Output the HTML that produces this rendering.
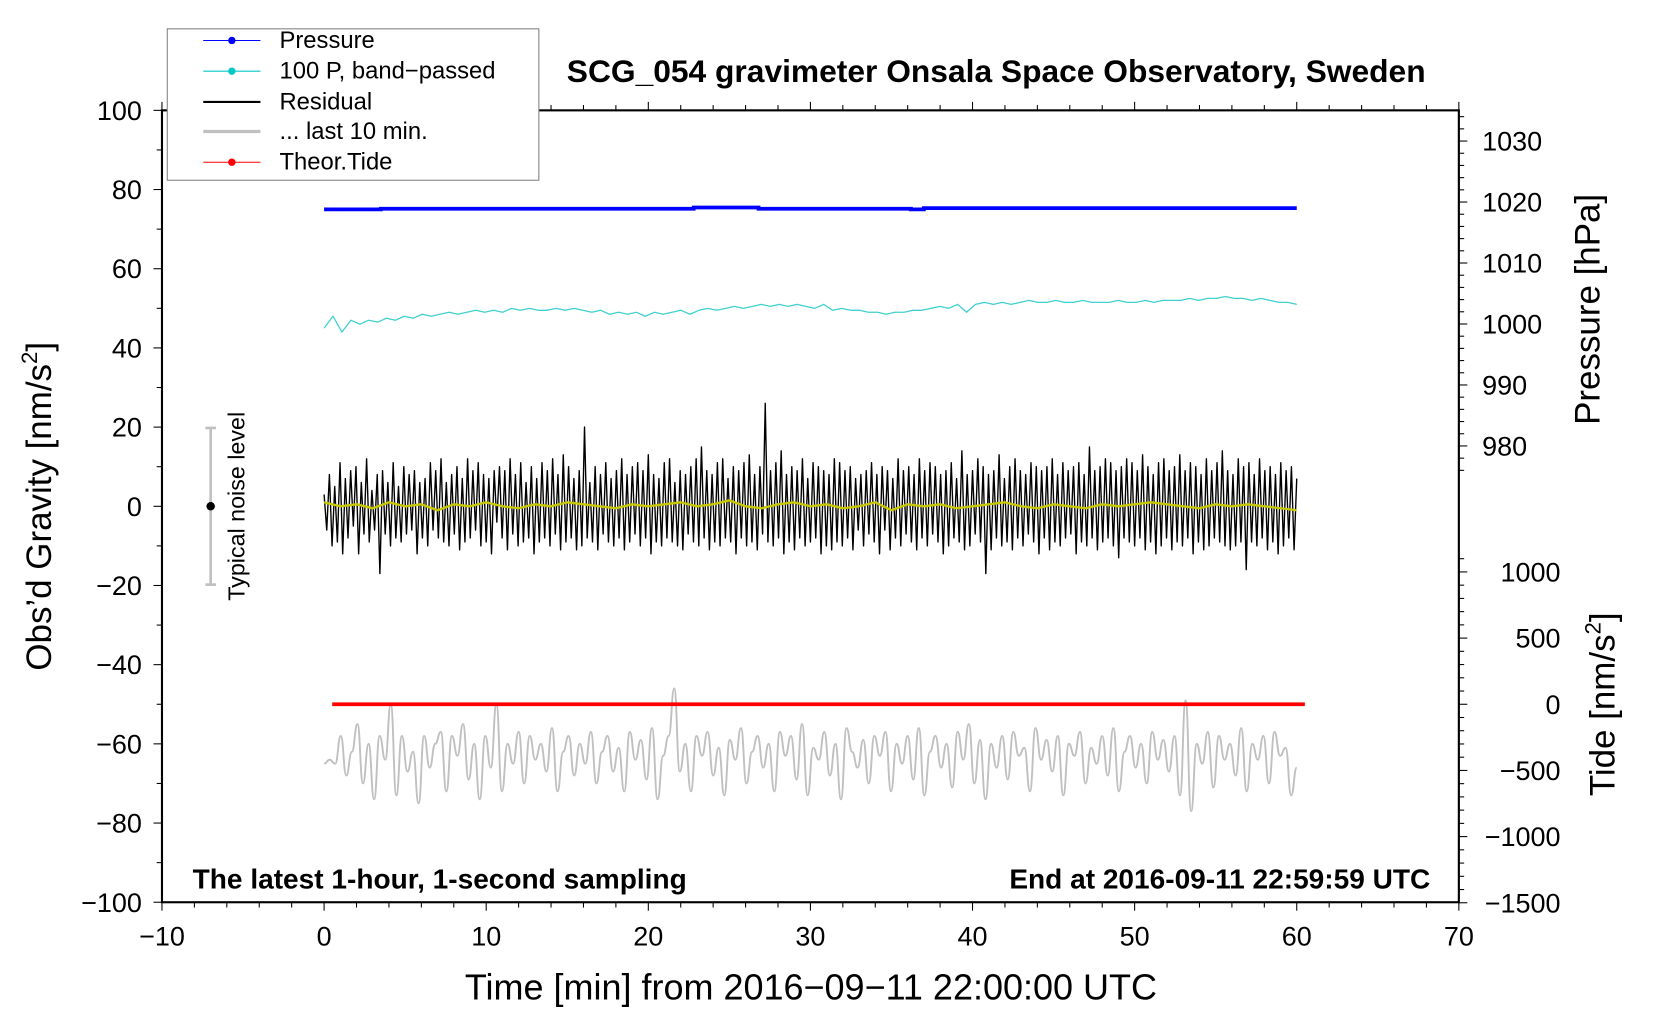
<!DOCTYPE html>
<html><head><meta charset="utf-8"><style>
html,body{margin:0;padding:0;background:#fff;}
svg{display:block;font-family:"Liberation Sans",sans-serif;}
</style></head><body>
<svg id="chart" width="1660" height="1020" viewBox="0 0 1568 963">
<rect x="0" y="0" width="1568" height="963" fill="#fff"/>
<g id="plot"></g>
<g id="axes"></g>
<text x="941" y="77" font-size="30" font-weight="bold" text-anchor="middle">SCG_054 gravimeter Onsala Space Observatory, Sweden</text>
<text x="182" y="839" font-size="26.5" font-weight="bold">The latest 1-hour, 1-second sampling</text>
<text x="1351" y="839" font-size="26.5" font-weight="bold" text-anchor="end">End at 2016-09-11 22:59:59 UTC</text>
<text x="766" y="944" font-size="34" text-anchor="middle">Time [min] from 2016−09−11 22:00:00 UTC</text>
<text transform="translate(48,478) rotate(-90)" font-size="33" text-anchor="middle">Obs’d Gravity [nm/s<tspan font-size="21" dy="-13">2</tspan><tspan dy="13">]</tspan></text>
<text transform="translate(1511,292) rotate(-90)" font-size="33" text-anchor="middle">Pressure [hPa]</text>
<text transform="translate(1525,665) rotate(-90)" font-size="33" text-anchor="middle">Tide [nm/s<tspan font-size="21" dy="-13">2</tspan><tspan dy="13">]</tspan></text>
<g>
<line x1="199" y1="404" x2="199" y2="552" stroke="#c0c0c0" stroke-width="2.5"/>
<line x1="194" y1="404" x2="204" y2="404" stroke="#c0c0c0" stroke-width="2.5"/>
<line x1="194" y1="552" x2="204" y2="552" stroke="#c0c0c0" stroke-width="2.5"/>
<circle cx="199" cy="478" r="4" fill="#000"/>
<text transform="translate(231,478) rotate(-90)" font-size="22" text-anchor="middle">Typical noise level</text>
</g>
<g>
<rect x="158" y="27" width="351" height="143" fill="#fff" stroke="#808080" stroke-width="1"/>
<g><line x1="192" y1="38" x2="246" y2="38" stroke="#0000ff" stroke-width="1"/><circle cx="219" cy="38" r="3.5" fill="#0000ff"/><text x="264" y="45" font-size="22.5">Pressure</text></g>
<g><line x1="192" y1="67" x2="246" y2="67" stroke="#00c8c8" stroke-width="1"/><circle cx="219" cy="67" r="3.5" fill="#00c8c8"/><text x="264" y="74" font-size="22.5">100 P, band−passed</text></g>
<g><line x1="192" y1="96" x2="246" y2="96" stroke="#000" stroke-width="2"/><text x="264" y="103" font-size="22.5">Residual</text></g>
<g><line x1="192" y1="124" x2="246" y2="124" stroke="#c0c0c0" stroke-width="3"/><text x="264" y="131" font-size="22.5">... last 10 min.</text></g>
<g><line x1="192" y1="153" x2="246" y2="153" stroke="#ff0000" stroke-width="1"/><circle cx="219" cy="153" r="3.5" fill="#ff0000"/><text x="264" y="160" font-size="22.5">Theor.Tide</text></g>
</g>
</svg>
<script>
// ---- data ----
const pressureTimes = [0, 3.5, 22.8, 26.8, 36.2, 37, 60];
const pressureValues = [1018.8, 1018.9, 1019.1, 1018.9, 1018.8, 1019.0, 1019.0];
const bandPassed = [45,48,44,47,46,47,46.5,47.5,47,48,47.5,48.5,48,48.5,49,48.5,49,49.5,49,49.5,49,50,49.5,50,49.5,49.5,50,49.5,50,49.5,49,49.5,48.5,49,48.5,49,48,49,48.5,49,49.5,48.5,49.5,50,49.5,50,50.5,50,50.5,51,50.5,51,50.5,51,50.5,50,51,49.5,50,49.5,49.5,49,49,48.5,49,49,49.5,49.5,50,50.5,50,51,49,51,51.5,51,51.5,51,51.5,52,51.5,51.5,52,51.5,51.5,52,51.5,51.5,51.5,52,51.5,51.5,52,51.5,52,52,52,52.5,52,52.5,52.5,53,52.5,52.5,52,52.5,52,51.5,51.5,51];
const residual = [3,-6,8,-10,5,-9,11,-12,7,-8,9,-5,10,-12,6,-7,12,-9,4,-6,8,-17,9,-7,6,-10,11,-8,5,-9,10,-7,8,-6,9,-12,6,-8,7,-10,11,-6,9,-8,12,-9,6,-10,8,-7,10,-11,7,-9,12,-8,9,-6,11,-10,8,-9,7,-12,9,-4,10,-8,9,-11,12,-7,8,-10,11,-9,6,-8,10,-12,7,-9,11,-8,9,-10,12,-7,8,-11,13,-9,10,-8,7,-11,9,-10,20,-8,6,-9,10,-11,8,-7,11,-9,7,-10,9,-8,12,-11,8,-9,10,-7,11,-10,9,-8,13,-12,8,-9,7,-10,11,-8,12,-9,6,-10,9,-11,8,-7,10,-9,12,-10,15,-8,9,-11,8,-9,11,-10,12,-8,7,-9,10,-12,9,-8,11,-10,13,-9,8,-11,10,-7,26,-9,9,-10,11,-8,14,-12,8,-9,10,-11,9,-8,12,-10,7,-9,11,-8,10,-12,9,-10,8,-11,12,-9,11,-10,9,-8,10,-11,7,-6,8,-10,9,-7,11,-9,8,-12,10,-6,9,-11,7,-8,12,-10,9,-7,10,-9,8,-11,12,-8,9,-10,11,-7,10,-9,8,-12,9,-10,11,-8,7,-9,14,-11,8,-10,9,-7,12,-9,10,-17,8,-11,9,-8,13,-10,7,-9,10,-11,12,-8,9,-10,8,-7,11,-9,10,-12,9,-8,10,-11,12,-9,8,-10,11,-8,9,-7,10,-12,11,-9,8,-10,15,-8,9,-11,10,-9,12,-8,11,-10,9,-13,10,-8,12,-9,11,-10,9,-8,13,-11,10,-9,8,-12,11,-10,12,-8,9,-11,10,-9,13,-10,9,-8,11,-12,10,-9,8,-11,12,-10,9,-8,11,-9,14,-10,9,-11,8,-10,12,-9,10,-16,11,-9,8,-10,12,-8,9,-11,10,-9,8,-12,11,-10,9,-8,10,-11,7];
const smoothed = [1,0,0.5,-0.5,1,0,0.5,-1,0.5,0,1,0,-0.5,0.5,0,1,0.5,0,-0.5,0.5,0,0.5,1,0,0.5,1.5,0,-0.5,0.5,1,0,0.5,-0.5,0,1,-1,0.5,0,0.5,-0.5,0,0.5,1,0,-0.5,0.5,0,-0.5,0.5,0,0.5,1,0.5,0,-0.5,0.5,0,0.5,0,-0.5,-1];
const last10 = [-65,-64,-65,-58,-68,-62,-55,-70,-60,-74,-58,-64,-50,-73,-58,-67,-62,-75,-58,-66,-60,-57,-72,-58,-63,-55,-69,-60,-74,-58,-66,-50,-72,-60,-65,-57,-70,-58,-64,-60,-67,-56,-72,-62,-58,-68,-60,-65,-57,-70,-62,-58,-67,-61,-72,-57,-64,-59,-69,-56,-74,-63,-58,-46,-67,-60,-72,-58,-63,-57,-68,-61,-73,-59,-64,-56,-70,-62,-58,-66,-60,-72,-57,-63,-58,-69,-55,-73,-61,-64,-57,-68,-60,-74,-56,-62,-66,-59,-70,-58,-63,-57,-72,-60,-65,-58,-69,-56,-73,-62,-58,-66,-60,-71,-57,-64,-55,-70,-59,-74,-60,-66,-58,-69,-57,-63,-61,-72,-56,-64,-59,-67,-58,-73,-60,-63,-57,-70,-61,-65,-58,-68,-56,-72,-62,-58,-66,-60,-70,-57,-64,-59,-67,-58,-73,-49,-77,-60,-65,-57,-71,-58,-64,-60,-68,-56,-72,-60,-64,-58,-70,-57,-63,-61,-73,-66];
const tideTimes = [0.5, 60.5];
const tideValues = [0, 0];
const xTicks = [-10,0,10,20,30,40,50,60,70];
const yTicks = [100,80,60,40,20,0,-20,-40,-60,-80,-100];
const pTicks = [1030,1020,1010,1000,990,980];
const tTicks = [1000,500,0,-500,-1000,-1500];

// ---- axes functions ----
const X0=153, X1=1378, Y0=104, Y1=852;
const xs = v => X0 + (v+10)/80*(X1-X0);
const ys = v => Y1 - (v+100)/200*(Y1-Y0);
const ps = v => 133 + (1030-v)*(421-133)/50;
const ts = v => 665 - v*(665-540)/1000;
const NS='http://www.w3.org/2000/svg';
const plot=document.getElementById('plot'), axes=document.getElementById('axes');
function mk(tag, attrs, parent){const e=document.createElementNS(NS,tag);for(const k in attrs)e.setAttribute(k,attrs[k]);parent.appendChild(e);return e;}

let d='';
for(let i=0;i<pressureTimes.length-1;i++){d+=(i?'L':'M')+xs(pressureTimes[i])+','+ps(pressureValues[i])+'L'+xs(pressureTimes[i+1])+','+ps(pressureValues[i]);}
let e=mk('path',{d:d,fill:'none',stroke:'#0000ff','stroke-width':3.5},plot);



function series(arr, yf, color, w, name, smooth){
  const n=arr.length; const pts=arr.map((v,i)=>[xs(i*60/(n-1)),yf(v)]);
  let p='M'+pts[0][0].toFixed(2)+','+pts[0][1].toFixed(2);
  for(let i=1;i<n;i++){
    if(smooth){const a=pts[i-1],b=pts[i],mx=(a[0]+b[0])/2;p+='C'+mx.toFixed(2)+','+a[1].toFixed(2)+' '+mx.toFixed(2)+','+b[1].toFixed(2)+' '+b[0].toFixed(2)+','+b[1].toFixed(2);}
    else p+='L'+pts[i][0].toFixed(2)+','+pts[i][1].toFixed(2);
  }
  const el=mk('path',{d:p,fill:'none',stroke:color,'stroke-width':w,'stroke-linejoin':'round'},plot);
  
  
}
series(bandPassed, ys, '#40d0d0', 1.2, 'bandpassed-pressure-line', false);
series(last10, ys, '#c0c0c0', 1.8, 'last10-line', true);
series(residual, ys, '#000', 1.3, 'residual-line', false);
series(smoothed, ys, '#c8c800', 2.2, 'residual-smoothed-line', false);

e=mk('path',{d:'M'+xs(tideTimes[0])+','+ts(tideValues[0])+'L'+xs(tideTimes[1])+','+ts(tideValues[1]),stroke:'#ff0000','stroke-width':3.5,fill:'none'},plot);



e=mk('rect',{x:X0,y:Y0,width:X1-X0,height:Y1-Y0,fill:'none',stroke:'#000','stroke-width':2},axes);


for(let v=-10;v<=70;v+=2){const big=v%10===0;const x=xs(v);
 mk('line',{x1:x,y1:Y1,x2:x,y2:Y1+(big?8:5),stroke:'#000','stroke-width':1},axes);
 mk('line',{x1:x,y1:Y0,x2:x,y2:Y0-(big?8:5),stroke:'#000','stroke-width':1},axes);}
xTicks.forEach(v=>{const t=mk('text',{x:xs(v),y:Y1+41,'font-size':25.5,'text-anchor':'middle'},axes);t.textContent=String(v).replace('-','−');
 
 });
for(let v=-100;v<=100;v+=10){const big=v%20===0;mk('line',{x1:X0,y1:ys(v),x2:X0-(big?8:5),y2:ys(v),stroke:'#000','stroke-width':1},axes);}
yTicks.forEach(v=>{const t=mk('text',{x:X0-19,y:ys(v)+9,'font-size':25.5,'text-anchor':'end'},axes);t.textContent=String(v).replace('-','−');
 
 });
for(let v=976;v<=1034;v+=2){const big=v%10===0;mk('line',{x1:X1,y1:ps(v),x2:X1+(big?8:5),y2:ps(v),stroke:'#000','stroke-width':1},axes);}
pTicks.forEach(v=>{const t=mk('text',{x:X1+22,y:ps(v)+9,'font-size':25.5},axes);t.textContent=v;
 
 });
for(let v=-1500;v<=1100;v+=100){const big=v%500===0;mk('line',{x1:X1,y1:ts(v),x2:X1+(big?8:5),y2:ts(v),stroke:'#000','stroke-width':1},axes);}
tTicks.forEach(v=>{const t=mk('text',{x:1474,y:ts(v)+9,'font-size':25.5,'text-anchor':'end'},axes);t.textContent=String(v).replace('-','−');
 
 });
</script>
</body></html>
